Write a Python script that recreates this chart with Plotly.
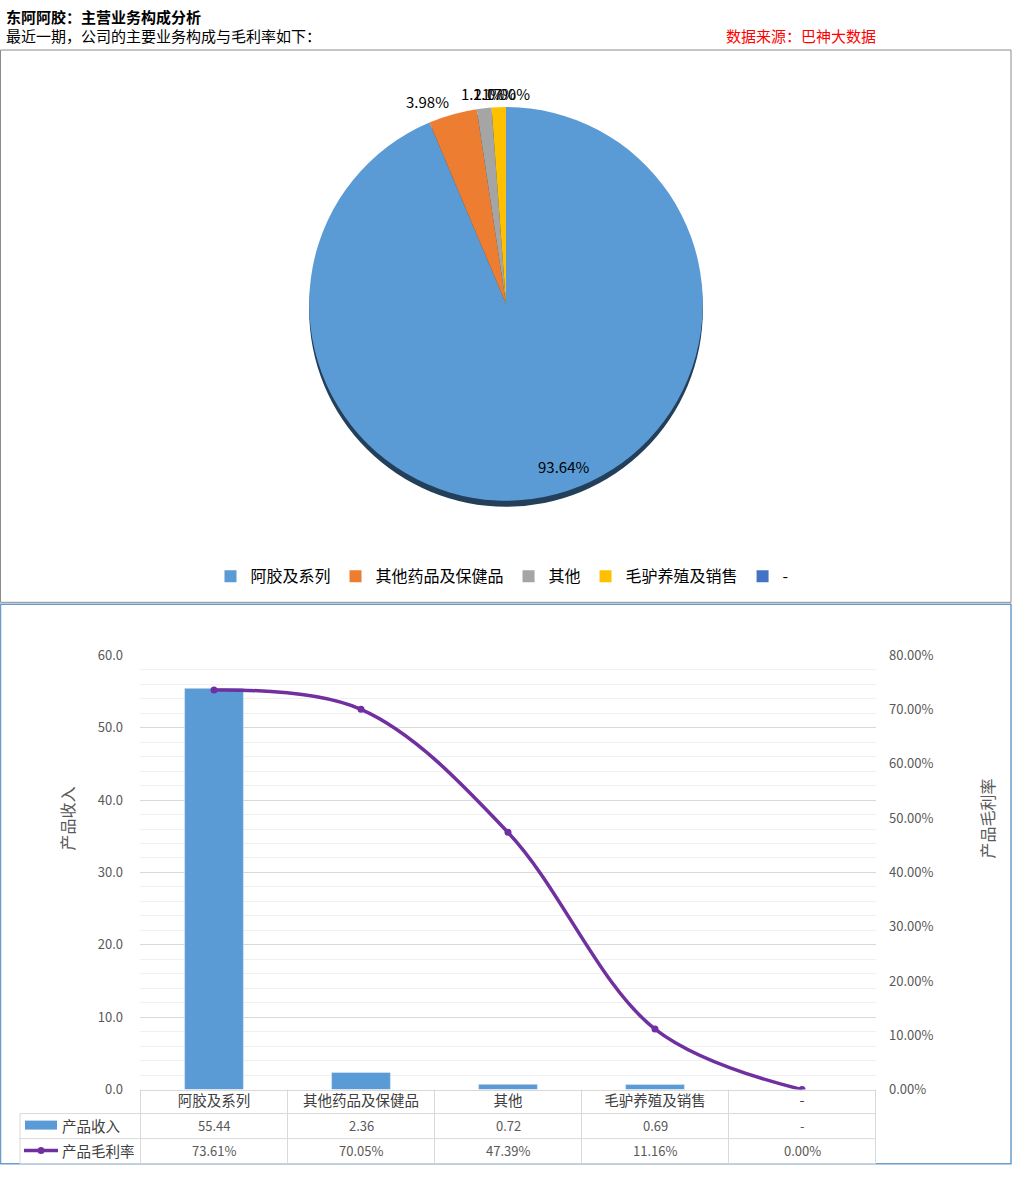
import plotly.graph_objects as go

W, H = 1013, 1190

categories = ["阿胶及系列", "其他药品及保健品", "其他", "毛驴养殖及销售", "-"]
revenue = [55.44, 2.36, 0.72, 0.69, None]
margin = [0.7361, 0.7005, 0.4739, 0.1116, 0.0]
pie_pct = [93.64, 3.98, 1.21, 1.17, 0.00]
pie_colors = ["#5B9BD5", "#ED7D31", "#A5A5A5", "#FFC000", "#4472C4"]

FONT = "Noto Sans CJK SC"

# the photographed page comes out squeezed a little in height (about 10px top
# band, 0.9835 scale), so layout positions are given in picture pixels and
# converted back here
SY, Y0 = 0.9835, 10.0


def px(x):
    return x / W


def fy(y):
    return (y - Y0) / SY


def py(y):
    return 1 - fy(y) / H


fig = go.Figure()

# pie: circle of radius 200 figure px, top edge at picture y=107
pie_top = 107
pie_bot = pie_top + 400 * SY
shadow = 6

fig.add_trace(go.Pie(
    values=[1], marker=dict(colors=["#243f5a"]), textinfo="none",
    hoverinfo="skip", showlegend=False, sort=False,
    domain=dict(x=[px(306), px(706)], y=[py(pie_bot + shadow), py(pie_top + shadow)]),
))

fig.add_trace(go.Pie(
    labels=categories,
    values=pie_pct,
    sort=False,
    direction="clockwise",
    rotation=0,
    marker=dict(colors=pie_colors),
    textinfo="none",
    domain=dict(x=[px(306), px(706)], y=[py(pie_bot), py(pie_top)]),
))

fig.add_trace(go.Bar(
    x=categories, y=revenue, name="产品收入",
    marker_color="#5B9BD5", showlegend=False,
    xaxis="x", yaxis="y",
))
fig.add_trace(go.Scatter(
    x=categories, y=margin, name="产品毛利率",
    mode="lines+markers",
    line=dict(color="#7030A0", width=3.5, shape="spline", smoothing=1.0),
    marker=dict(size=7, color="#7030A0"),
    showlegend=False, xaxis="x", yaxis="y2",
))

tick_font = dict(size=13, color="#595959", family=FONT)

fig.update_layout(
    width=W, height=H,
    margin=dict(l=0, r=0, t=0, b=0),
    paper_bgcolor="white", plot_bgcolor="white",
    font=dict(family=FONT),
    bargap=0.6,
    legend=dict(
        orientation="h", x=px(502), xanchor="center", y=py(576), yanchor="middle",
        font=dict(size=16, color="#000000", family=FONT),
        itemwidth=30, traceorder="normal",
    ),
    xaxis=dict(
        domain=[px(140), px(876)], anchor="y",
        showline=True, linecolor="#d9d9d9", showgrid=False,
        tickfont=dict(size=14.5, color="#404040", family=FONT),
        ticks="", ticklabelstandoff=-2,
    ),
    yaxis=dict(
        domain=[py(1089), py(655)], range=[0, 60], dtick=10,
        tickformat=".1f", tickfont=tick_font,
        showgrid=True, gridcolor="#d9d9d9", zeroline=False,
        minor=dict(dtick=2, showgrid=True, gridcolor="#f0f0f0"),
        ticklabelstandoff=16,
    ),
    yaxis2=dict(
        overlaying="y", side="right", anchor="x",
        range=[0, 0.8], dtick=0.1, tickformat=".2%",
        tickfont=tick_font, showgrid=False, zeroline=False,
        ticklabelstandoff=12,
    ),
)

shapes = []
# frames
shapes.append(dict(type="rect", xref="paper", yref="paper",
                   x0=px(0.5), x1=px(1011), y0=py(602), y1=py(50),
                   line=dict(color="#8c8c8c", width=1)))
shapes.append(dict(type="rect", xref="paper", yref="paper",
                   x0=px(0.5), x1=px(1011), y0=py(1163), y1=py(604),
                   line=dict(color="#6a9ccc", width=1.5)))

# table grid
grid = "#d9d9d9"
for yy in [1113, 1138, 1163]:
    shapes.append(dict(type="line", xref="paper", yref="paper",
                       x0=px(20), x1=px(876), y0=py(yy), y1=py(yy),
                       line=dict(color=grid, width=1)))
for i in range(len(categories) + 1):
    shapes.append(dict(type="line", xref="x", yref="paper",
                       x0=i - 0.5, x1=i - 0.5, y0=py(1089), y1=py(1163),
                       line=dict(color=grid, width=1)))
shapes.append(dict(type="line", xref="paper", yref="paper",
                   x0=px(20), x1=px(20), y0=py(1113), y1=py(1163),
                   line=dict(color=grid, width=1)))

# table legend keys
shapes.append(dict(type="rect", xref="paper", yref="paper",
                   x0=px(25), x1=px(57), y0=py(1129), y1=py(1120),
                   fillcolor="#5B9BD5", line=dict(width=0)))
shapes.append(dict(type="line", xref="paper", yref="paper",
                   x0=px(24), x1=px(58), y0=py(1150), y1=py(1150),
                   line=dict(color="#7030A0", width=3.5)))
shapes.append(dict(type="circle", xref="paper", yref="paper",
                   x0=px(37.5), x1=px(44.5), y0=py(1153.5), y1=py(1146.5),
                   fillcolor="#7030A0", line=dict(width=0)))
fig.update_layout(shapes=shapes)

ann = []
ann.append(dict(text="<b>东阿阿胶：主营业务构成分析</b>", xref="paper", yref="paper",
                x=px(4), y=py(16.5), xanchor="left", yanchor="middle", showarrow=False,
                font=dict(size=15, color="#000000", family=FONT)))
ann.append(dict(text="最近一期，公司的主要业务构成与毛利率如下：", xref="paper", yref="paper",
                x=px(4), y=py(35.5), xanchor="left", yanchor="middle", showarrow=False,
                font=dict(size=15, color="#000000", family=FONT)))
ann.append(dict(text="数据来源：巴神大数据", xref="paper", yref="paper",
                x=px(724), y=py(35.5), xanchor="left", yanchor="middle", showarrow=False,
                font=dict(size=15, color="#ff0000", family=FONT)))

# pie data labels (the three small ones overlap, as in the original)
label_pos = [(563, 466), (427, 101), (482, 93), (494, 93), (508, 93)]
for v, (lx, ly) in zip(pie_pct, label_pos):
    ann.append(dict(text=f"{v:.2f}%", xref="paper", yref="paper",
                    x=px(lx), y=py(ly), xanchor="center", yanchor="middle",
                    showarrow=False, font=dict(size=15, color="#000000", family=FONT)))

ann.append(dict(text="产品收入", textangle=-90, xref="paper", yref="paper",
                x=px(67), y=py(818), xanchor="center", yanchor="middle", showarrow=False,
                font=dict(size=16, color="#595959", family=FONT)))
ann.append(dict(text="产品毛利率", textangle=-90, xref="paper", yref="paper",
                x=px(987), y=py(818), xanchor="center", yanchor="middle", showarrow=False,
                font=dict(size=16, color="#595959", family=FONT)))

ann.append(dict(text="产品收入", xref="paper", yref="paper",
                x=px(60), y=py(1125), xanchor="left", yanchor="middle", showarrow=False,
                font=dict(size=14.5, color="#404040", family=FONT)))
ann.append(dict(text="产品毛利率", xref="paper", yref="paper",
                x=px(60), y=py(1150), xanchor="left", yanchor="middle", showarrow=False,
                font=dict(size=14.5, color="#404040", family=FONT)))

for i, c in enumerate(categories):
    r = revenue[i]
    ann.append(dict(text="-" if r is None else f"{r:.2f}", xref="x", yref="paper",
                    x=c, y=py(1125), xanchor="center", yanchor="middle", showarrow=False,
                    font=dict(size=13, color="#595959", family=FONT)))
    ann.append(dict(text=f"{margin[i]:.2%}", xref="x", yref="paper",
                    x=c, y=py(1150), xanchor="center", yanchor="middle", showarrow=False,
                    font=dict(size=13, color="#595959", family=FONT)))
fig.update_layout(annotations=ann)

# pin the figure to the window's top-left corner (no page margin, no stray line box)
pin = ("document.body.style.margin='0';"
       "document.body.style.overflow='hidden';"
       "var g=document.getElementById('{plot_id}');"
       "g.style.position='absolute';g.style.top='0';g.style.left='0';")
fig.write_html("out.html", config={"displayModeBar": False}, post_script=pin)
